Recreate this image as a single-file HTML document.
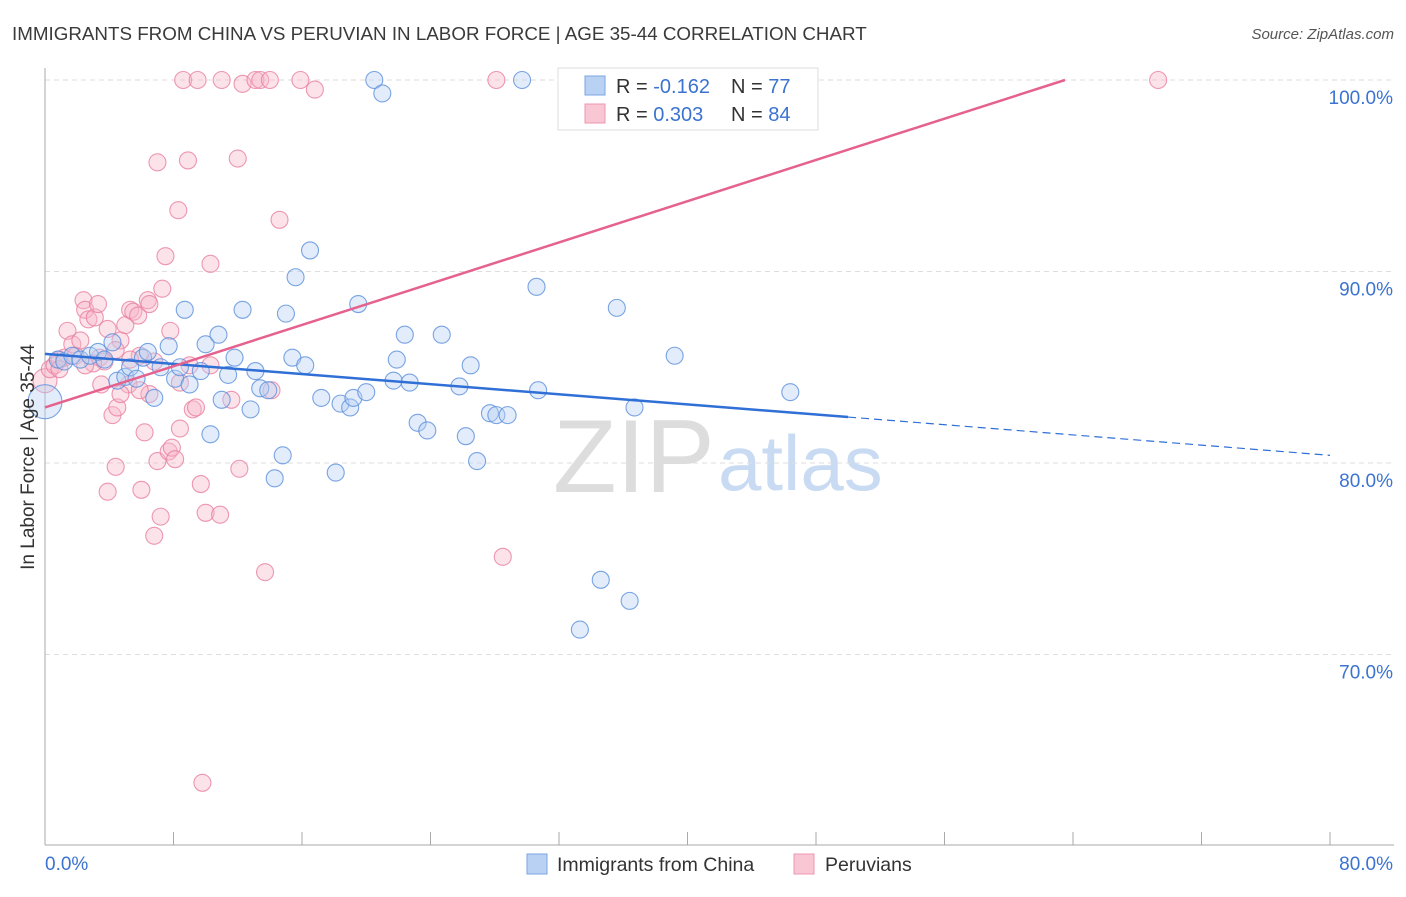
<!DOCTYPE html>
<html><head><meta charset="utf-8"><style>
body{margin:0;background:#fff;font-family:"Liberation Sans",sans-serif}
svg text{font-family:"Liberation Sans",sans-serif}
</style></head><body>
<svg width="1406" height="892" xmlns="http://www.w3.org/2000/svg">
<text x="12" y="40" font-size="18.8" fill="#3a3a3a">IMMIGRANTS FROM CHINA VS PERUVIAN IN LABOR FORCE | AGE 35-44 CORRELATION CHART</text>
<text x="1394" y="39" font-size="15" fill="#555" font-style="italic" text-anchor="end">Source: ZipAtlas.com</text>
<g>
<text x="553" y="492" font-size="104" fill="#ddd" font-family="Liberation Serif">ZIP</text>
<text x="718" y="490" font-size="78" fill="#c9dbf2">atlas</text>
</g>
<g id="grid"></g>
<g id="axes"></g>
<g id="pts"></g>
<g id="trend"></g>
<text x="34" y="457" font-size="19" fill="#333" text-anchor="middle" transform="rotate(-90 34 457)">In Labor Force | Age 35-44</text>
<g>
<rect x="558" y="68" width="260" height="62" fill="#fff" stroke="#ddd"/>
<rect x="585" y="76" width="20" height="19" fill="#b9d2f3" stroke="#7aa6e0"/>
<rect x="585" y="104" width="20" height="19" fill="#f9c6d4" stroke="#ee97b1"/>
<text x="616" y="93" font-size="20" fill="#333">R = <tspan fill="#3b73d1">-0.162</tspan></text>
<text x="731" y="93" font-size="20" fill="#333">N = <tspan fill="#3b73d1">77</tspan></text>
<text x="616" y="121" font-size="20" fill="#333">R = <tspan fill="#3b73d1"> 0.303</tspan></text>
<text x="731" y="121" font-size="20" fill="#333">N = <tspan fill="#3b73d1">84</tspan></text>
</g>
<g>
<rect x="527" y="854" width="20" height="20" fill="#b9d2f3" stroke="#7aa6e0"/>
<text x="557" y="871" font-size="19.5" fill="#333">Immigrants from China</text>
<rect x="794" y="854" width="20" height="20" fill="#f9c6d4" stroke="#ee97b1"/>
<text x="825" y="871" font-size="19.5" fill="#333">Peruvians</text>
</g>
</svg>
<script>
const yTicks=[100,90,80,70];
const yTickLabels=["100.0%","90.0%","80.0%","70.0%"];
const xTicks=[0,8,16,24,32,40,48,56,64,72,80];
const xEndLabels=["0.0%","80.0%"];
const chinaX=[0,0.8,1.2,1.7,2.2,2.8,3.3,3.7,4.2,4.5,5.0,5.3,5.7,6.1,6.4,6.8,7.2,7.7,8.1,8.4,8.7,9.0,9.7,10.0,10.3,10.8,11.0,11.4,11.8,12.3,12.8,13.1,13.4,13.9,14.3,14.8,15.0,15.4,15.6,16.2,16.5,17.2,18.1,18.4,19.0,19.2,19.5,20.0,20.5,21.0,21.7,21.9,22.4,22.7,23.2,23.8,24.7,25.8,26.2,26.5,26.9,27.7,28.1,28.8,29.7,30.6,30.7,33.3,34.6,35.6,36.4,36.7,39.2,46.4];
const chinaY=[83.2,85.4,85.3,85.6,85.4,85.6,85.8,85.4,86.3,84.3,84.5,85.0,84.4,85.5,85.8,83.4,85.0,86.1,84.4,85.0,88.0,84.1,84.8,86.2,81.5,86.7,83.3,84.6,85.5,88.0,82.8,84.8,83.9,83.8,79.2,80.4,87.8,85.5,89.7,85.1,91.1,83.4,79.5,83.1,82.9,83.4,88.3,83.7,100,99.3,84.3,85.4,86.7,84.2,82.1,81.7,86.7,84.0,81.4,85.1,80.1,82.6,82.5,82.5,100,89.2,83.8,71.3,73.9,88.1,72.8,82.9,85.6,83.7];
const peruX=[0,0.3,0.6,0.9,1.2,1.4,1.7,1.9,2.2,2.4,2.5,2.7,3.1,3.3,3.4,3.5,3.7,3.9,4.2,4.4,4.5,4.7,5.0,5.2,5.3,5.5,5.8,5.9,6.0,6.2,6.4,6.5,6.8,6.8,7.0,7.0,7.2,7.3,7.5,7.7,7.8,7.9,8.1,8.3,8.4,8.6,8.9,9.2,9.4,9.5,9.7,10.0,10.3,10.9,11.0,11.6,12.0,12.1,12.3,13.1,13.4,13.7,14.0,14.1,14.6,15.9,16.8,28.1,28.5,69.3,9.8,3.9,5.3,6.5,3.0,4.4,9.0,10.3,0.9,2.5,5.9,4.7,8.4];
const peruY=[84.3,84.9,85.1,85.4,85.5,86.9,86.2,85.6,86.4,88.5,88.0,87.5,87.6,88.3,85.5,84.1,85.3,78.5,82.5,79.8,82.9,86.4,87.2,84.1,88.0,87.9,87.7,85.6,78.6,81.6,88.5,88.3,76.2,85.3,80.1,95.7,77.2,89.1,90.8,80.6,86.9,80.8,80.2,93.2,84.2,100,95.8,82.8,82.9,100,78.9,77.4,90.4,77.3,100,83.3,95.9,79.7,99.8,100,100,74.3,100,83.8,92.7,100,99.5,100,75.1,100,63.3,87.0,85.4,83.6,85.2,85.9,85.1,85.1,84.9,85.1,83.8,83.6,81.8];
const chinaTrend=[[0,85.7],[50,82.4],[80,80.4]];
const peruTrend=[[0,82.9],[63.5,100]];

const NS="http://www.w3.org/2000/svg";
const X=v=>45+v/80*1285;
const Y=v=>80+(100-v)*19.15;
function mk(tag,attrs,parent){const e=document.createElementNS(NS,tag);for(const k in attrs)e.setAttribute(k,attrs[k]);document.getElementById(parent).appendChild(e);return e;}
yTicks.forEach((t,i)=>{
 const l=mk('line',{x1:45,x2:1394,y1:Y(t),y2:Y(t),stroke:'#ddd','stroke-dasharray':'5,4'},'grid');
 
 
 const tx=mk('text',{x:1393,y:Y(t)+24,'font-size':19,fill:'#3b73d1','text-anchor':'end'},'axes');
 tx.textContent=yTickLabels[i];
 
 
});
const ya=mk('line',{x1:45,x2:45,y1:68,y2:845,stroke:'#aaa'},'axes');


const xa=mk('line',{x1:45,x2:1394,y1:845,y2:845,stroke:'#aaa'},'axes');


xTicks.forEach(t=>{
 const l=mk('line',{x1:X(t),x2:X(t),y1:832,y2:845,stroke:'#aaa'},'axes');
 
 
});
const xl0=mk('text',{x:45,y:870,'font-size':19,fill:'#3b73d1'},'axes');
xl0.textContent=xEndLabels[0];


const xl1=mk('text',{x:1393,y:870,'font-size':19,fill:'#3b73d1','text-anchor':'end'},'axes');
xl1.textContent=xEndLabels[1];


function dots(xs,ys,fill,stroke,name){
 xs.forEach((v,i)=>{
  const r=(i===0&&name==='china-point')?17:(i===0?12:8.5);
  const c=mk('circle',{cx:X(v),cy:Y(ys[i]),r:r,fill:fill,'fill-opacity':0.4,stroke:stroke,'stroke-opacity':0.8,'stroke-width':1.1},'pts');
  
  
 });
}
dots(peruX,peruY,'#f7b6c9','#e97fa0','peru-point');
dots(chinaX,chinaY,'#b6d0f2','#5a8fdc','china-point');
const ct1=mk('line',{x1:X(chinaTrend[0][0]),y1:Y(chinaTrend[0][1]),x2:X(chinaTrend[1][0]),y2:Y(chinaTrend[1][1]),stroke:'#2f6fd6','stroke-width':2.5},'trend');


const ct2=mk('line',{x1:X(chinaTrend[1][0]),y1:Y(chinaTrend[1][1]),x2:X(chinaTrend[2][0]),y2:Y(chinaTrend[2][1]),stroke:'#2f6fd6','stroke-width':1.2,'stroke-dasharray':'8,5'},'trend');


const pt=mk('line',{x1:X(peruTrend[0][0]),y1:Y(peruTrend[0][1]),x2:X(peruTrend[1][0]),y2:Y(peruTrend[1][1]),stroke:'#e5628e','stroke-width':2.5},'trend');


</script>
</body></html>
